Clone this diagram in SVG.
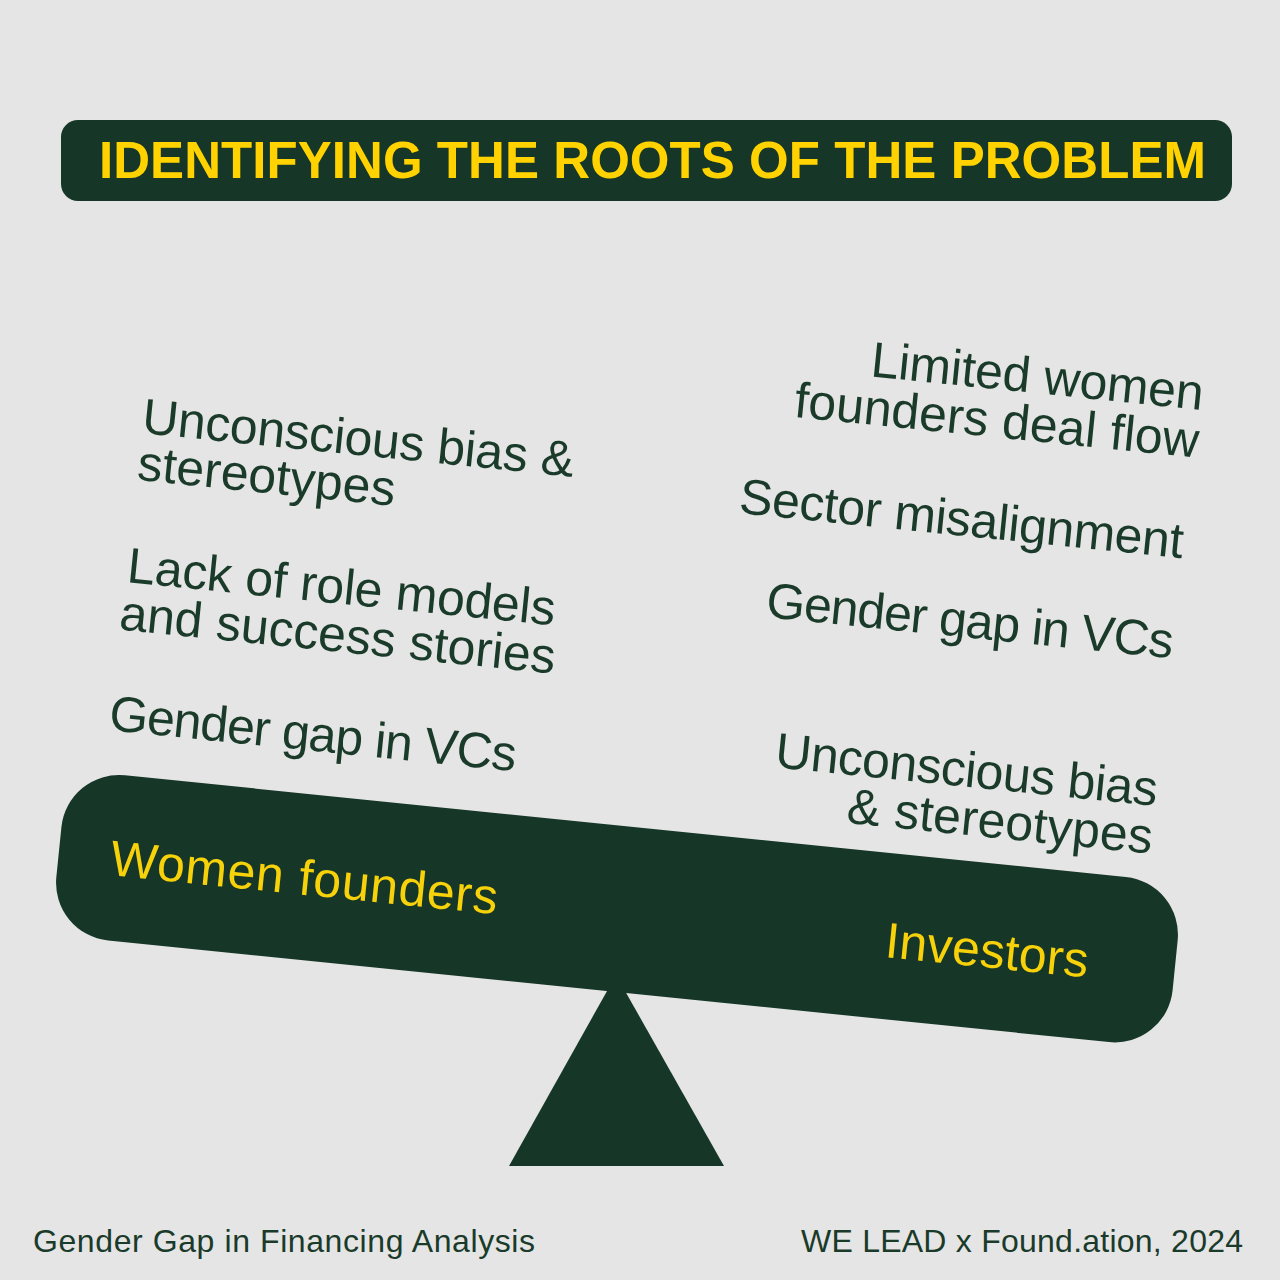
<svg xmlns="http://www.w3.org/2000/svg" width="1280" height="1280" viewBox="0 0 1280 1280">
  <style>
    .bg { fill: #e5e5e5; }
    .dark { fill: #163727; }
    .title { font-family: "Liberation Sans", Arial, sans-serif; font-weight: bold; font-size: 51px; fill: #ffd200; }
    .body { font-family: "Liberation Sans", Arial, sans-serif; font-size: 50px; fill: #1a3a2a; }
    .label { font-family: "Liberation Sans", Arial, sans-serif; font-size: 50px; fill: #f7d10a; }
    .foot { font-family: "Liberation Sans", Arial, sans-serif; font-size: 32px; fill: #1a3a2a; }
  </style>
  <rect class="bg" x="0" y="0" width="1280" height="1280"/>

  <g id="title">
    <rect class="dark" x="61" y="120" width="1171" height="81" rx="17"/>
    <text class="title" x="99" y="178" textLength="1107">IDENTIFYING THE ROOTS OF THE PROBLEM</text>
  </g>

  <g id="fulcrum">
    <polygon class="dark" points="616,975 509,1166 724,1166"/>
  </g>

  <g id="beam">
    <rect class="dark" x="-561" y="-83" width="1122" height="166" rx="58" transform="translate(617,908.7) rotate(5.8)"/>
    <text class="label" transform="translate(109,875) rotate(5.8)" x="0" y="0" textLength="389">Women founders</text>
    <text class="label" transform="translate(884,957) rotate(5.8)" x="0" y="0" textLength="204">Investors</text>
  </g>

  <g id="left-bias" transform="translate(141,433) rotate(5.8)">
    <text class="body" x="0" y="0" textLength="434">Unconscious bias &amp;</text>
    <text class="body" x="0" y="47" textLength="259">stereotypes</text>
  </g>

  <g id="left-rolemodels" transform="translate(126,582) rotate(5.8)">
    <text class="body" x="0" y="0" textLength="430">Lack of role models</text>
    <text class="body" x="-3" y="48" textLength="438">and success stories</text>
  </g>

  <g id="left-gendergap" transform="translate(108,730) rotate(5.8)">
    <text class="body" x="0" y="0" textLength="409">Gender gap in VCs</text>
  </g>

  <g id="right-dealflow" transform="translate(1202,410) rotate(5.8)" text-anchor="end">
    <text class="body" x="0" y="0" textLength="334">Limited women</text>
    <text class="body" x="0" y="48" textLength="406">founders deal flow</text>
  </g>

  <g id="right-sector" transform="translate(738,513) rotate(5.8)">
    <text class="body" x="0" y="0" textLength="446">Sector misalignment</text>
  </g>

  <g id="right-gendergap" transform="translate(765,617) rotate(5.8)">
    <text class="body" x="0" y="0" textLength="409">Gender gap in VCs</text>
  </g>

  <g id="right-bias" transform="translate(1156,806) rotate(5.8)" text-anchor="end">
    <text class="body" x="0" y="0" textLength="384">Unconscious bias</text>
    <text class="body" x="0" y="48" textLength="307">&amp; stereotypes</text>
  </g>

  <g id="footer">
    <text class="foot" x="33" y="1252" textLength="502">Gender Gap in Financing Analysis</text>
    <text class="foot" x="1243" y="1252" text-anchor="end" textLength="442">WE LEAD x Found.ation, 2024</text>
  </g>
</svg>
